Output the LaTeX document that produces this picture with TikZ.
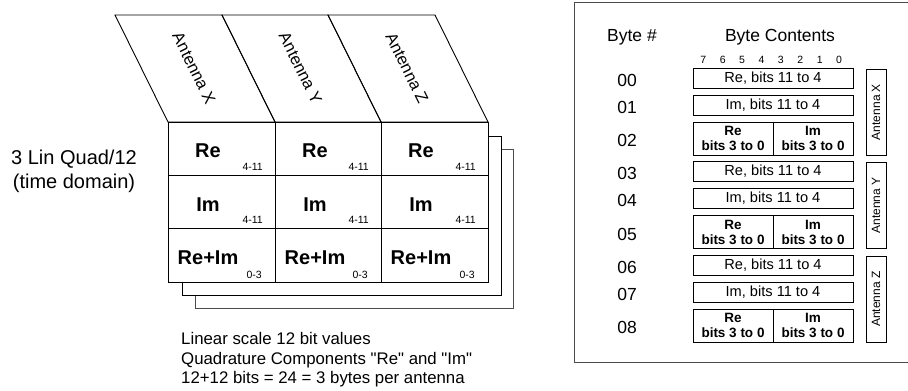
\documentclass[tikz,border=0pt]{standalone}
\usepackage{fontspec}
\setmainfont{Liberation Sans}[Ligatures=TeXOff]
\tikzset{
  sheet/.style={draw, fill=white, line width=0.9pt},
  backsheet/.style={draw=black!70, fill=white, line width=0.9pt},
  bigbold/.style={font=\fontsize{20}{24}\selectfont\bfseries, inner sep=0pt},
  bitrange/.style={font=\fontsize{10.5}{12}\selectfont, inner sep=0pt},
  slanted/.style={font=\fontsize{16.5}{19}\selectfont, rotate=-63.6, inner sep=0pt},
  sidetext/.style={font=\fontsize{20}{23}\selectfont, inner sep=0pt},
  notetext/.style={font=\fontsize{16.8}{19.5}\selectfont, inner sep=0pt},
  header/.style={font=\fontsize{17.5}{20}\selectfont, inner sep=0pt},
  bitnum/.style={font=\fontsize{10.5}{12}\selectfont, inner sep=0pt},
  bytebox/.style={draw, line width=1pt, inner sep=0pt, minimum height=20pt,
    minimum width=160pt, font=\fontsize{14.6}{17}\selectfont},
  halfbox/.style={draw, line width=1pt, inner sep=0pt, minimum height=33pt,
    minimum width=80pt, align=center, font=\fontsize{13.5}{15}\selectfont\bfseries},
  antbox/.style={draw, line width=1pt, inner sep=0pt, minimum height=20pt,
    minimum width=86pt, rotate=90, font=\fontsize{12}{14}\selectfont},
  panel/.style={draw=black!70, line width=1pt},
}
\begin{document}
\begin{tikzpicture}[x=1pt, y=-1pt]
\useasboundingbox (0,0) rectangle (908,391);

% ---------- stacked sheets of the sample block ----------
\draw[backsheet] (195,149) rectangle (513,308);
\draw[sheet] (182,136) rectangle (501,295);
\draw[sheet] (168,122) rectangle (488,282);

% column and row rules of the front sheet
\draw[line width=0.9pt] (275,122) -- (275,282) (381,122) -- (381,282)
  (168,175) -- (488,175) (168,228) -- (488,228);

% slanted antenna headers above the columns
\foreach \xa/\xb/\ant in {168/275/X, 275/381/Y, 381/488/Z} {
  \draw[line width=0.9pt] (\xa-53,15) -- (\xb-53,15) -- (\xb,122) -- (\xa,122) -- cycle;
  \node[slanted] (ant\ant) at ({(\xa+\xb)/2-27.5},68) {Antenna \ant};
}

% cell contents
\foreach \xa/\xb/\c in {168/275/1, 275/381/2, 381/488/3} {
  \node[bigbold, anchor=base] (re\c) at (\xa+40,157) {Re};
  \node[bitrange, anchor=base east] (reb\c) at (\xb-12,170) {4-11};
  \node[bigbold, anchor=base] (im\c) at (\xa+40,211) {Im};
  \node[bitrange, anchor=base east] (imb\c) at (\xb-12,223) {4-11};
  \node[bigbold, anchor=base] (ri\c) at (\xa+40,264) {Re+Im};
  \node[bitrange, anchor=base east] (rib\c) at (\xb-13,278) {0-3};
}

% format name
\node[sidetext, anchor=base] (fmt) at (74,164) {3 Lin Quad/12};
\node[sidetext, anchor=base] (dom) at (74,188) {(time domain)};

% notes below the block
\node[notetext, anchor=base west] (n1) at (181,344) {Linear scale 12 bit values};
\node[notetext, anchor=base west] (n2) at (181,364) {Quadrature Components "Re" and "Im"};
\node[notetext, anchor=base west] (n3) at (181,383) {12+12 bits = 24 = 3 bytes per antenna};

% ---------- byte layout panel ----------
\draw[panel] (912,2) -- (574,2) -- (574,362) -- (912,362);

\node[header, anchor=base] (hbyte) at (632,41) {Byte \#};
\node[header, anchor=base] (hcont) at (780,41) {Byte Contents};

\foreach \b [count=\i from 0] in {7,6,5,4,3,2,1,0}
  \node[bitnum, anchor=base] (bit\b) at (703.3+19.4*\i,63.5) {\b};

\foreach \g/\ant/\na/\nb/\nc in {0/X/00/01/02, 1/Y/03/04/05, 2/Z/06/07/08} {
  \pgfmathsetmacro\B{68+93.5*\g}
  \node[bytebox] (hi\g) at (773,\B+10) {Re, bits 11 to 4};
  \node[bytebox] (lo\g) at (773,\B+37) {Im, bits 11 to 4};
  \node[halfbox] (lr\g) at (733,\B+70.5) {Re\\bits 3 to 0};
  \node[halfbox] (li\g) at (813,\B+70.5) {Im\\bits 3 to 0};
  \node[antbox] (side\g) at (876,\B+44) {Antenna \ant};
  \node[header, anchor=base] (num\na) at (627,\B+18.3) {\na};
  \node[header, anchor=base] (num\nb) at (627,\B+45.3) {\nb};
  \node[header, anchor=base] (num\nc) at (627,\B+78.8) {\nc};
}
\end{tikzpicture}
\end{document}
